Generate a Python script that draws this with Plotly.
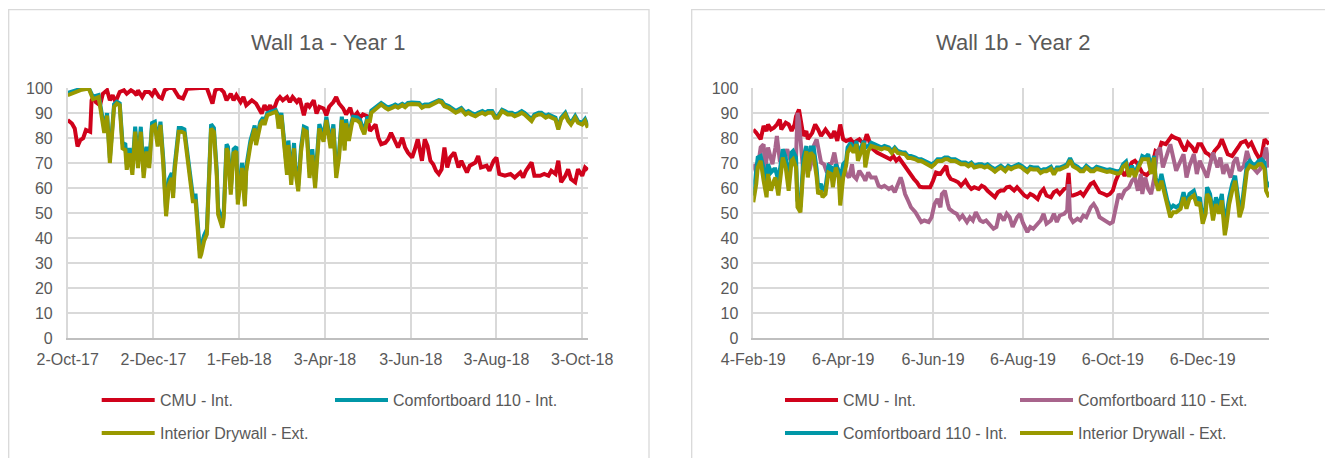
import pandas as pd
import plotly.graph_objects as go

# ---------------- Wall 1a - Year 1 (days counted from 2-Oct-17) ----------------
start_1a = "2017-10-02"
days_cmu_1a = [0, 3, 5, 7, 9, 11, 13, 16, 17, 19, 20, 23, 25, 28, 30, 32, 34, 37, 40, 42, 45, 47, 49, 50, 53, 55, 58, 60, 62, 65, 67, 69, 72, 75, 79, 82, 85, 90, 94, 99, 103, 105, 108, 111, 113, 116, 118, 120, 123, 125, 127, 131, 134, 136, 138, 140, 142, 144, 146, 149, 151, 153, 156, 158, 160, 163, 165, 168, 170, 172, 175, 177, 179, 182, 184, 186, 189, 191, 193, 196, 198, 201, 203, 206, 208, 210, 213, 215, 217, 219, 221, 223, 226, 228, 230, 233, 235, 238, 240, 242, 245, 247, 249, 252, 254, 256, 258, 260, 262, 264, 266, 268, 270, 272, 275, 278, 280, 284, 286, 290, 292, 294, 298, 300, 303, 305, 307, 311, 315, 318, 322, 324, 326, 330, 332, 336, 339, 342, 344, 347, 349, 351, 354, 356, 358, 361, 363, 366, 368, 370]
cmu_1a = [87.2, 85.8, 83.8, 76.6, 79.2, 79.9, 83.2, 82.5, 95.1, 97.1, 94.4, 93.1, 97.7, 99.1, 95.1, 97.1, 94.4, 98.4, 99.1, 97.7, 99.1, 98.4, 97.1, 99.1, 96.4, 98.4, 98.4, 97.1, 99.1, 96.4, 95.8, 99.1, 100, 100, 96.4, 95.8, 99.7, 100, 100, 100, 93.8, 99.1, 100, 98.4, 95.1, 97.7, 95.1, 97.1, 94.4, 96.4, 93.1, 95.1, 93.8, 91.8, 89.8, 93.1, 91.1, 93.1, 90.5, 95.1, 96.4, 95.1, 96.4, 94.4, 96.4, 94.4, 95.8, 89.1, 93.8, 92.5, 95.1, 89.8, 92.5, 91.8, 89.1, 92.5, 94.4, 96.4, 93.8, 91.8, 89.4, 92.1, 88.1, 90.1, 88.1, 89.4, 88.7, 82.8, 84.1, 85.4, 80.1, 77.5, 78.1, 79.5, 82.1, 78.8, 76.2, 80.1, 76.2, 74.2, 72.2, 75.5, 79.5, 70.9, 79.5, 76.8, 70.9, 69.5, 66.9, 65.6, 67.5, 76.2, 68.2, 72.2, 74.2, 68.2, 70.9, 66.2, 68.9, 70.2, 72.8, 68.2, 68.9, 66.9, 70.9, 72.2, 65.6, 64.9, 65.6, 64.2, 66.2, 64.2, 66.9, 70.2, 64.9, 64.9, 65.6, 64.9, 66.9, 65.6, 70.9, 62.3, 64.9, 67.5, 63.6, 62.3, 67.5, 64.9, 68.2, 67.2]

days_board_1a = [0, 5, 10, 15, 18, 22, 26, 28, 30, 33, 35, 37, 39, 41, 42, 44, 46, 48, 50, 52, 54, 56, 58, 60, 62, 64, 66, 68, 70, 72, 74, 75, 76, 79, 81, 83, 85, 87, 89, 91, 92, 94, 95, 97, 99, 101, 102, 104, 106, 107, 110, 111, 113, 114, 116, 118, 120, 121, 124, 126, 127, 130, 132, 133, 134, 137, 139, 140, 142, 145, 148, 149, 150, 152, 154, 156, 157, 159, 161, 162, 164, 166, 168, 170, 172, 174, 176, 178, 179, 182, 184, 187, 189, 191, 193, 195, 197, 198, 200, 202, 203, 206, 208, 209, 211, 213, 215, 216, 219, 221, 223, 226, 228, 231, 233, 235, 238, 240, 242, 245, 247, 250, 252, 254, 257, 259, 261, 264, 266, 268, 271, 273, 276, 278, 280, 283, 285, 287, 290, 292, 295, 297, 299, 302, 304, 306, 309, 311, 313, 316, 318, 321, 323, 325, 328, 330, 332, 335, 337, 340, 342, 344, 347, 349, 351, 354, 356, 358, 361, 363, 366, 368, 370]
board_int_1a = [98, 99, 99.8, 100, 96.5, 97.2, 84, 90, 72, 93.5, 94.5, 93.8, 78, 77.5, 69.5, 76, 67.5, 84.5, 70.5, 84.5, 66.5, 76.5, 70, 86, 86.5, 78.5, 86.5, 71.5, 51, 63.5, 66, 58, 68.5, 84, 84, 83.5, 75.5, 65, 57, 57, 50.5, 35, 36.5, 41, 43.5, 70, 85.5, 84, 67.5, 52, 46.5, 50.5, 77.5, 76.5, 59.5, 75.5, 76.5, 55.5, 70, 55, 68.5, 79, 84, 85, 79, 86.5, 88.2, 86.5, 90, 90.6, 91.2, 90, 85.5, 90, 78, 67.5, 79, 63.5, 78, 68.5, 61, 76.5, 84.5, 84, 66.5, 75.5, 62.5, 78, 85.5, 80.5, 88.5, 78, 85.5, 66.5, 74, 88.5, 77, 87.5, 80.5, 86.5, 88.5, 88.2, 87.3, 85.5, 83, 88, 88, 91, 92.3, 93, 94, 92.8, 92.2, 92.8, 93.4, 92.8, 93.7, 93, 94, 94.2, 94.2, 94, 92.8, 93.4, 93.4, 94, 94.6, 95.2, 94.9, 93.4, 92.8, 92, 90.8, 91.4, 92, 90.1, 90.8, 90.1, 89.4, 90.1, 90.8, 90.1, 90.8, 90.8, 88.8, 88.8, 91.3, 90.8, 90.1, 90.1, 89.4, 90.1, 90.8, 90.1, 88.8, 87.5, 89.4, 90.1, 90.1, 88.8, 89.4, 88.8, 88.1, 84.1, 88.1, 90.1, 87.5, 86.1, 88.8, 86.8, 86.1, 87.5, 84.8]
drywall_1a = [97.1, 98.2, 99.3, 99.8, 95.5, 96.4, 82, 89, 70, 92.5, 93.8, 93.1, 75.9, 75.2, 67.3, 73.9, 65.3, 82.5, 68, 82.5, 64, 74.6, 68, 84.5, 85.2, 76.6, 85.2, 69.3, 48.7, 61.3, 64, 56, 66.6, 82.5, 82.5, 81.9, 73.2, 62.6, 54.7, 54.7, 48.1, 32, 33.5, 38.8, 41.5, 68, 83.8, 82.5, 65.3, 49.4, 44.1, 48.1, 75.9, 74.6, 57.4, 73.9, 74.6, 53.4, 68, 52.7, 66.6, 77.2, 82.5, 83.8, 77.2, 85.2, 87.2, 85.2, 89.1, 89.8, 90.5, 89.1, 83.8, 89.1, 75.9, 65.3, 77.2, 61.3, 75.9, 66.6, 58.7, 74.6, 83.2, 82.5, 64, 73.2, 60, 75.9, 83.8, 78.5, 87.2, 75.9, 83.8, 64, 72, 87.2, 75, 86, 78.8, 85.2, 87.4, 87, 86, 84.1, 81.5, 86.8, 86.8, 90.1, 91.4, 92.1, 93.4, 92.1, 91.4, 92.1, 92.7, 92.1, 93.1, 92.3, 93.4, 93.6, 93.6, 93.4, 92.1, 92.7, 92.7, 93.4, 94, 94.7, 94.3, 92.7, 92.1, 91.4, 90.1, 90.7, 91.4, 89.4, 90.1, 89.4, 88.7, 89.4, 90.1, 89.4, 90.1, 90.1, 88.1, 88.1, 90.7, 90.1, 89.4, 89.4, 88.7, 89.4, 90.1, 89.4, 88.1, 86.8, 88.7, 89.4, 89.4, 88.1, 88.7, 88.1, 87.4, 83.4, 87.4, 89.4, 86.8, 85.4, 88.1, 86.1, 85.4, 86.8, 84.1]

ticks_1a = ["2017-10-02", "2017-12-02", "2018-02-01", "2018-04-03", "2018-06-03", "2018-08-03", "2018-10-03"]
labels_1a = ["2-Oct-17", "2-Dec-17", "1-Feb-18", "3-Apr-18", "3-Jun-18", "3-Aug-18", "3-Oct-18"]
range_1a = ["2017-10-02", "2018-10-07 08:00"]

# ---------------- Wall 1b - Year 2 (days counted from 4-Feb-19) ----------------
start_1b = "2019-02-04"
days_cmu_1b = [0, 2, 5, 7, 9, 10, 12, 14, 16, 18, 19, 22, 24, 26, 28, 29, 31, 32, 34, 36, 37, 40, 42, 44, 46, 49, 51, 53, 55, 57, 59, 61, 63, 66, 68, 70, 72, 75, 77, 78, 80, 84, 88, 93, 95, 97, 99, 102, 104, 106, 109, 111, 113, 115, 118, 120, 122, 124, 127, 129, 131, 132, 134, 137, 139, 141, 144, 146, 148, 150, 153, 155, 157, 159, 162, 164, 166, 168, 170, 172, 174, 177, 179, 181, 184, 186, 188, 190, 193, 195, 197, 199, 202, 204, 206, 208, 211, 213, 214, 215, 217, 220, 222, 224, 226, 229, 231, 233, 235, 238, 240, 242, 244, 246, 248, 250, 252, 255, 257, 259, 261, 264, 267, 270, 273, 275, 277, 280, 282, 284, 286, 289, 291, 293, 295, 298, 300, 302, 304, 307, 309, 311, 313, 316, 318, 320, 322, 325, 327, 329, 331, 334, 336, 338, 341, 343, 345, 347, 350]
cmu_1b = [83.4, 82.1, 79.5, 84.8, 82.8, 85.4, 83.4, 84.1, 85.4, 87.4, 83.4, 86.1, 85.4, 82.8, 85.4, 88.7, 91.4, 88.1, 80.8, 82.8, 79.5, 82.1, 85.4, 83.4, 80.8, 83.4, 81.5, 80.1, 82.8, 78.8, 85.4, 79.5, 78.8, 79.5, 78.1, 78.8, 79.5, 77.5, 81.5, 80.1, 76.2, 74.2, 72.8, 71.5, 72.8, 70.9, 72, 69.5, 67.5, 65.6, 63.6, 62.3, 60.5, 60.3, 60.5, 60.3, 62.9, 66.2, 65.6, 67.5, 68.9, 65.6, 63.6, 62.9, 62.3, 60.9, 62.9, 60.9, 59.6, 60.3, 59.6, 60.9, 60.3, 58.9, 57.6, 56.3, 58.3, 59, 59, 60.3, 60.5, 59, 60.3, 59, 57, 56.3, 57.6, 57, 55.6, 58.3, 59.6, 57, 56.3, 58.3, 59, 57.6, 59.6, 60.3, 66, 57, 57, 57.6, 58.3, 57, 59, 61.6, 62.3, 60.3, 58.3, 57.6, 57, 57.6, 59, 62.9, 65.6, 66.9, 64.9, 68.2, 70.2, 70.9, 69.5, 66, 65.2, 67, 74.8, 74.2, 78.1, 77.5, 79.5, 80.8, 80.1, 79.5, 76.8, 74.8, 78.1, 76.2, 74.2, 77.5, 77.5, 74.2, 73.5, 72.2, 74.8, 76.8, 79.5, 76.8, 73.5, 72.8, 74.2, 76.2, 78.1, 78.8, 76.8, 78.1, 74.2, 72.2, 72.8, 79.5, 77.5]

days_ext_1b = [0, 2, 3, 5, 7, 8, 10, 11, 13, 15, 16, 18, 20, 22, 23, 25, 27, 29, 30, 31, 33, 34, 36, 38, 40, 41, 43, 45, 46, 48, 50, 52, 53, 55, 57, 58, 60, 62, 63, 65, 67, 68, 70, 72, 75, 76, 78, 80, 83, 85, 87, 89, 92, 94, 96, 98, 100, 101, 103, 105, 107, 110, 112, 114, 116, 119, 121, 123, 125, 127, 128, 130, 132, 133, 136, 138, 140, 142, 145, 147, 149, 151, 154, 156, 158, 160, 163, 165, 167, 170, 172, 174, 176, 179, 181, 183, 186, 188, 190, 193, 195, 197, 199, 202, 204, 206, 208, 211, 213, 214, 215, 217, 220, 222, 224, 226, 229, 231, 233, 235, 238, 240, 242, 244, 246, 248, 250, 252, 255, 257, 259, 261, 263, 264, 266, 268, 270, 272, 274, 276, 278, 281, 283, 285, 287, 290, 292, 294, 296, 299, 301, 303, 305, 308, 310, 312, 315, 317, 319, 321, 324, 326, 328, 330, 333, 335, 337, 339, 342, 344, 346, 348, 350]
board_ext_1b = [69.5, 66.2, 68, 76.2, 77.5, 66.9, 76.2, 74.2, 69.5, 76.2, 80.8, 70.9, 69.5, 74.2, 75.5, 71.5, 69.5, 72.2, 90.1, 86.8, 74.8, 65.6, 74.2, 66.9, 71.5, 76.8, 79.5, 73.5, 70.2, 69.5, 66.2, 70.2, 69.5, 74.2, 67.5, 64.9, 65, 68.2, 65.6, 64.2, 69.5, 64.9, 63.6, 66.9, 64.2, 62.9, 66.2, 64.2, 64.2, 60.9, 60.3, 60.9, 59.6, 60.3, 58.3, 61.6, 64.2, 62.5, 57.6, 55, 52.3, 50.3, 48.3, 46.4, 47, 46.4, 48.3, 53.6, 55.6, 52.3, 57.6, 58.9, 53.6, 51.7, 50.3, 49.7, 47.7, 49, 46.4, 48.3, 47, 50.3, 47, 46.4, 47, 45.7, 43.7, 44.4, 49.7, 47, 49.7, 48.3, 44.4, 48.3, 49.7, 46, 42.4, 44.4, 43.7, 45.7, 47, 49.7, 45.7, 47, 49.7, 46.4, 49, 49.7, 51, 61.6, 48.3, 46.4, 47.7, 47, 49, 48.3, 52.3, 53.6, 51.7, 48.3, 47, 46.4, 45.7, 46.4, 53, 57.6, 56.3, 58.9, 60.3, 62.9, 64.2, 58.9, 65.6, 57.6, 64.2, 59.6, 57.6, 63.6, 74.2, 76.2, 68.2, 74.2, 77.5, 72.2, 66.9, 70.9, 73.5, 64.2, 68.9, 73.5, 65.6, 70.9, 68.2, 64.2, 69.5, 74.2, 68.2, 72.2, 65.6, 69.5, 64.2, 70.2, 72.2, 66.9, 68.9, 74.8, 70.9, 68.2, 66.2, 67.5, 70.9, 76.2, 68.2]

days_int_1b = [0, 2, 3, 5, 7, 9, 10, 12, 14, 15, 17, 19, 20, 22, 24, 26, 27, 29, 30, 32, 34, 36, 37, 39, 41, 43, 44, 46, 47, 49, 51, 53, 54, 56, 58, 59, 61, 63, 64, 66, 68, 70, 71, 73, 75, 76, 78, 80, 83, 85, 87, 89, 92, 94, 96, 98, 101, 103, 105, 107, 110, 112, 114, 116, 119, 121, 123, 125, 128, 130, 132, 134, 137, 139, 141, 144, 146, 148, 150, 153, 155, 157, 159, 162, 164, 166, 168, 171, 173, 175, 177, 180, 182, 184, 186, 188, 190, 193, 195, 197, 199, 202, 204, 206, 208, 211, 213, 215, 217, 220, 222, 224, 226, 229, 231, 233, 235, 238, 240, 242, 245, 247, 249, 251, 253, 255, 257, 259, 261, 263, 264, 266, 268, 270, 272, 273, 275, 277, 278, 281, 283, 285, 287, 290, 292, 294, 296, 299, 301, 303, 305, 307, 308, 310, 312, 314, 316, 318, 320, 321, 323, 325, 327, 329, 330, 332, 334, 335, 337, 339, 341, 343, 345, 347, 348, 350]
board_int_1b = [57, 66.9, 72.2, 72.8, 68.2, 62.9, 69.5, 66.2, 67.5, 67.5, 62.9, 72.2, 75.5, 72.2, 62.9, 74.2, 74.8, 72.2, 55, 52.3, 72.2, 76.8, 66.9, 76.2, 76.2, 67.5, 60.3, 61.6, 58.9, 60.3, 68.9, 68.2, 62.9, 69.5, 66.9, 62.9, 69.5, 70.9, 76.2, 78.1, 74.8, 78.8, 74.2, 76.2, 78.8, 76.2, 76.8, 78.1, 77.5, 76.8, 76.2, 76.8, 76.2, 74.8, 76.2, 74.8, 74.2, 74.2, 72.8, 72.8, 72.2, 71.5, 71.5, 70.9, 70.2, 69.5, 70.2, 71.5, 71.5, 72.2, 72.2, 71.5, 71.5, 70.9, 70.2, 70.2, 69.5, 70.2, 68.9, 69.5, 69.5, 68.9, 69.5, 68.2, 67.5, 68.2, 68.9, 67.5, 68.9, 68.2, 68.9, 69.5, 68.9, 68, 67.2, 68.5, 68.2, 68.2, 66.9, 67.5, 67.5, 68.5, 66.2, 68.2, 68.2, 68.9, 69.5, 71.9, 69.5, 68.5, 67.5, 67.5, 68.9, 67.5, 67.5, 68.5, 68.2, 67.5, 67.2, 67.5, 66.9, 66.6, 66.9, 69.5, 70.6, 65.6, 68.9, 65.6, 68.9, 70.9, 72.8, 72.2, 73.5, 68.2, 72.8, 64.2, 60.3, 65.6, 62.9, 55, 51.7, 53, 52.3, 53.6, 58.3, 53.6, 57.6, 58.9, 55, 56.3, 48.3, 52.3, 60.3, 57.6, 49.7, 56.3, 52.3, 57.6, 45, 49, 56.3, 61.6, 64.9, 56.3, 50.3, 55, 62.9, 69.5, 70.9, 69.5, 69.5, 70.9, 71.5, 70.2, 62.9, 60.3]
drywall_1b = [54.3, 61.6, 68.2, 70.9, 62.9, 56.3, 65.6, 58.9, 62.9, 64.2, 57, 66.9, 72.2, 68.2, 58.9, 70.9, 71.5, 68.2, 52.3, 50.3, 68.2, 74.8, 64.2, 74.2, 72.8, 64.2, 57.6, 58.9, 56.3, 57.6, 66.2, 65.6, 60.3, 68.2, 64.2, 53, 64.2, 68.9, 74.2, 76.2, 74.2, 77.5, 70.9, 74.2, 78.1, 68.2, 74.8, 76.8, 76.2, 75.5, 75.5, 76, 75.5, 74, 75.5, 74, 73.5, 73.5, 72, 72, 71.5, 70.8, 70.8, 70.2, 69.5, 68.5, 69.5, 70.8, 70.8, 71.5, 71.5, 70.8, 70.8, 70.2, 69.5, 69.5, 68.7, 69.5, 68.2, 68.7, 68.7, 68.2, 68.7, 67.5, 66.5, 67.5, 68.2, 66.7, 68.2, 67.5, 68.2, 68.7, 68.2, 67.2, 66.4, 67.7, 67.4, 67.4, 66, 66.7, 66.7, 67.7, 65.4, 67.4, 67.4, 68.2, 68.7, 71, 68.7, 67.7, 66.7, 66.7, 68.2, 66.7, 66.7, 67.7, 67.4, 66.7, 66.4, 66.7, 66, 65.7, 66, 68.5, 69.5, 64.5, 67.7, 64.5, 67.7, 70.2, 71.5, 71.5, 71.5, 65.6, 72.2, 62.9, 58.9, 62.9, 60.3, 52.3, 48.3, 50.3, 50.3, 51.7, 56.3, 51.7, 55.6, 57, 53, 54.3, 45.7, 49.7, 57.6, 55.6, 47, 53.6, 49.7, 55, 41.1, 44.4, 53.6, 58.9, 62.9, 53.6, 48.3, 52.3, 60.3, 66.9, 68.9, 68.2, 68.2, 69.5, 69.5, 67.5, 58.9, 56.3]

ticks_1b = ["2019-02-04", "2019-04-06", "2019-06-06", "2019-08-06", "2019-10-06", "2019-12-06"]
labels_1b = ["4-Feb-19", "6-Apr-19", "6-Jun-19", "6-Aug-19", "6-Oct-19", "6-Dec-19"]
range_1b = ["2019-02-04", "2020-01-20"]

# ---------------- styles ----------------
RED, TEAL, OLIVE, MAUVE = "#D0021B", "#0097A7", "#999900", "#A8648C"
FONT = "Liberation Sans, Arial, sans-serif"
TXT = "#595959"
GRID = "#D9D9D9"
W, H = 1333, 458
OFF = 8  # page body margin in front of the figure


def dates(start, days):
    return pd.Timestamp(start) + pd.to_timedelta(days, unit="D")


fig = go.Figure()
series_1a = [
    ("CMU - Int.", days_cmu_1a, cmu_1a, RED),
    ("Comfortboard 110 - Int.", days_board_1a, board_int_1a, TEAL),
    ("Interior Drywall - Ext.", days_board_1a, drywall_1a, OLIVE),
]
series_1b = [
    ("CMU - Int.", days_cmu_1b, cmu_1b, RED),
    ("Comfortboard 110 - Ext.", days_ext_1b, board_ext_1b, MAUVE),
    ("Comfortboard 110 - Int.", days_int_1b, board_int_1b, TEAL),
    ("Interior Drywall - Ext.", days_int_1b, drywall_1b, OLIVE),
]
for name, d, v, c in series_1a:
    fig.add_trace(go.Scatter(x=dates(start_1a, d), y=v, name=name, mode="lines",
                             line=dict(color=c, width=4), xaxis="x", yaxis="y", showlegend=False))
for name, d, v, c in series_1b:
    fig.add_trace(go.Scatter(x=dates(start_1b, d), y=v, name=name, mode="lines",
                             line=dict(color=c, width=4), xaxis="x2", yaxis="y2", showlegend=False))


def px_x(p):
    return (p - OFF) / W


def px_y(p):
    return 1 - (p - OFF) / H


xaxis_common = dict(type="date", showgrid=True, gridcolor=GRID, gridwidth=1.5, showline=True,
                    linecolor="#BFBFBF", linewidth=1.5, ticks="", zeroline=False, automargin=False,
                    tickfont=dict(family=FONT, size=16, color=TXT), ticklabelstandoff=6,
                    fixedrange=True)
yaxis_common = dict(range=[0, 100], dtick=10, showgrid=True, gridcolor=GRID, gridwidth=1.5,
                    showline=True, linecolor=GRID, linewidth=1.5, ticks="", zeroline=False,
                    automargin=False, tickfont=dict(family=FONT, size=16, color=TXT),
                    ticklabelstandoff=10, domain=[px_y(338), px_y(88)], fixedrange=True)

fig.update_layout(
    width=W, height=H, autosize=False,
    margin=dict(l=0, r=0, t=0, b=0, autoexpand=False),
    paper_bgcolor="white", plot_bgcolor="white", showlegend=False,
    font=dict(family=FONT, color=TXT),
    xaxis=dict(xaxis_common, domain=[px_x(67.7), px_x(588.3)], range=range_1a,
               tickvals=ticks_1a, ticktext=labels_1a, anchor="y"),
    yaxis=dict(yaxis_common, anchor="x"),
    xaxis2=dict(xaxis_common, domain=[px_x(753.3), px_x(1269)], range=range_1b,
                tickvals=ticks_1b, ticktext=labels_1b, anchor="y2"),
    yaxis2=dict(yaxis_common, anchor="x2"),
)

# chart frames
for x0, x1 in [(8.7, 649), (691.7, 1350)]:
    fig.add_shape(type="rect", xref="paper", yref="paper", x0=px_x(x0), x1=px_x(x1),
                  y0=-0.1, y1=px_y(9.6), line=dict(color=GRID, width=1.3),
                  fillcolor="rgba(0,0,0,0)", layer="below")

# titles
for title, cx in [("Wall 1a - Year 1", 328), ("Wall 1b - Year 2", 1013)]:
    fig.add_annotation(text=title, xref="paper", yref="paper", x=px_x(cx), y=px_y(42),
                       showarrow=False, xanchor="center", yanchor="middle",
                       font=dict(family=FONT, size=22, color=TXT))

# legends (drawn as line swatches + text)
legend_1a = [(series_1a[0], 101.7, 400), (series_1a[1], 335, 400), (series_1a[2], 101.7, 433)]
legend_1b = [(series_1b[0], 785, 400), (series_1b[1], 1020, 400), (series_1b[2], 785, 433), (series_1b[3], 1020, 433)]
for (name, _, _, color), lx, ly in legend_1a + legend_1b:
    fig.add_shape(type="line", xref="paper", yref="paper", x0=px_x(lx), x1=px_x(lx + 53),
                  y0=px_y(ly), y1=px_y(ly), line=dict(color=color, width=4))
    fig.add_annotation(text=name, xref="paper", yref="paper", x=px_x(lx + 56), y=px_y(ly),
                       showarrow=False, xanchor="left", yanchor="middle",
                       font=dict(family=FONT, size=16, color=TXT))

fig.write_html("out.html")
